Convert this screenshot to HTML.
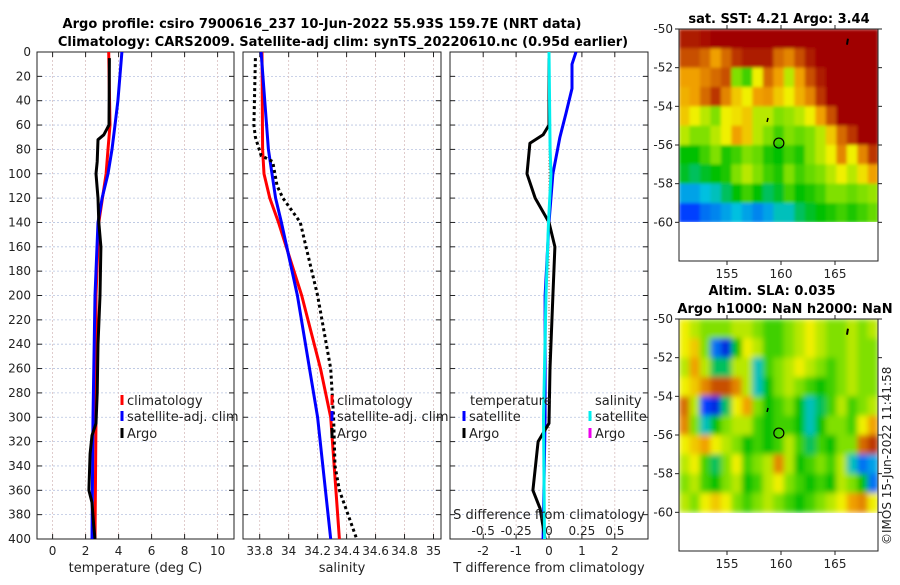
<!DOCTYPE html>
<html><head><meta charset="utf-8"><style>
html,body{margin:0;padding:0;background:#fff;}
svg text{font-family:"DejaVu Sans","Liberation Sans",sans-serif;fill:#222;}
</style></head><body>
<svg id="fig" width="900" height="580" viewBox="0 0 900 580" xmlns="http://www.w3.org/2000/svg">
<defs>
<filter id="blurS" x="0" y="0" width="1" height="1"><feGaussianBlur stdDeviation="1.5"/></filter>
<filter id="blurL" x="0" y="0" width="1" height="1"><feGaussianBlur stdDeviation="3"/></filter>
<clipPath id="clipSST"><rect x="679" y="29" width="199" height="193"/></clipPath>
<clipPath id="clipSLA"><rect x="679" y="319" width="199" height="195"/></clipPath>
</defs>
<text x="322" y="28" font-size="13" font-weight="bold" text-anchor="middle" style="fill:#000">Argo profile: csiro 7900616_237 10-Jun-2022 55.93S 159.7E (NRT data)</text>
<text x="343" y="46" font-size="13" font-weight="bold" text-anchor="middle" style="fill:#000">Climatology: CARS2009. Satellite-adj clim: synTS_20220610.nc (0.95d earlier)</text>
<text x="779" y="23" font-size="13" font-weight="bold" text-anchor="middle" style="fill:#000">sat. SST: 4.21 Argo: 3.44</text>
<text x="772" y="295" font-size="13" font-weight="bold" text-anchor="middle" style="fill:#000">Altim. SLA: 0.035</text>
<text x="785" y="313" font-size="13" font-weight="bold" text-anchor="middle" style="fill:#000">Argo h1000: NaN h2000: NaN</text>
<text transform="translate(891,545) rotate(-90)" font-size="12">©IMOS 15-Jun-2022 11:41:58</text>
</svg>
<script>
// ---------- data ----------
const depthTicks=[0,20,40,60,80,100,120,140,160,180,200,220,240,260,280,300,320,340,360,380,400];
const tempTicks=[0,2,4,6,8,10];
const salTicks=[33.8,34,34.2,34.4,34.6,34.8,35];
const salTickLabels=["33.8","34","34.2","34.4","34.6","34.8","35"];
const dTTicks=[-2,-1,0,1,2];
const dSTicks=[-0.5,-0.25,0,0.25,0.5];
const dSTickLabels=["-0.5","-0.25","0","0.25","0.5"];

const climTempDepth=[0,60,80,100,140,200,300,400];
const climTemp=[3.4,3.48,3.36,3.24,2.8,2.63,2.63,2.57];
const satTempDepth=[0,40,60,80,100,120,140,200,300,400];
const satTemp=[4.2,3.96,3.78,3.6,3.36,3.0,2.75,2.57,2.45,2.39];
const argoTempDepth=[5,60,68,72,90,100,120,140,160,200,240,280,305,315,330,360,370,390,400];
const argoTemp=[3.44,3.42,3.1,2.75,2.7,2.63,2.75,2.8,2.93,2.87,2.75,2.7,2.63,2.39,2.27,2.2,2.39,2.5,2.57];

const climSalDepth=[0,80,100,120,140,200,260,300,400];
const climSal=[33.816,33.82,33.83,33.87,33.93,34.09,34.22,34.29,34.35];
const satSalDepth=[0,80,100,120,140,200,300,400];
const satSal=[33.81,33.86,33.885,33.91,33.95,34.06,34.2,34.29];
const argoSalDepth=[5,60,70,85,90,110,120,140,160,200,260,300,340,360,400];
const argoSal=[33.77,33.76,33.77,33.81,33.89,33.92,33.96,34.08,34.12,34.2,34.29,34.31,34.32,34.35,34.47];

const dTSatDepth=[0,10,30,50,70,100,140,200,300,400];
const dTSat=[0.82,0.7,0.7,0.52,0.33,0.12,0,-0.12,-0.12,-0.18];
const dTArgoDepth=[5,60,68,75,100,120,140,160,200,260,305,320,360,375,400];
const dTArgo=[0,0,-0.18,-0.58,-0.67,-0.42,0,0.18,0.12,0.03,0,-0.33,-0.49,-0.27,-0.12];
const dSSatDepth=[0,80,100,140,200,300,400];
const dSSat=[0,0.008,0.015,-0.004,-0.023,-0.042,-0.034];

const lonTicks=[155,160,165];
const latTicks=[-50,-52,-54,-56,-58,-60];
const latTickLabels=["-50","-52","-54","-56","-58","-60"];
const argoLon=159.8, argoLat=-55.9;
const sstGrid=[
[.95,.95,.97,1,1,1,1,1,1,1,1,1,1,1,1,1,1,1,1],
[.85,.85,.8,.7,.8,.9,.95,.95,.95,.8,.75,.85,.95,1,1,1,1,1,1],
[.7,.7,.75,.8,.85,.5,.45,.6,.8,.7,.55,.7,.85,.95,1,1,1,1,1],
[.68,.7,.8,.9,.75,.65,.6,.7,.72,.65,.6,.68,.75,.9,1,1,1,1,1],
[.65,.6,.55,.5,.6,.62,.65,.55,.55,.5,.52,.55,.6,.7,.85,1,1,1,1],
[.55,.5,.5,.55,.6,.7,.65,.55,.5,.45,.5,.48,.5,.55,.65,.8,.9,1,1],
[.4,.4,.45,.5,.42,.45,.5,.48,.42,.4,.45,.42,.5,.55,.6,.75,.6,.75,.9],
[.38,.35,.38,.4,.42,.5,.55,.5,.45,.42,.5,.45,.48,.5,.55,.6,.55,.62,.7],
[.25,.25,.28,.3,.35,.4,.45,.4,.35,.38,.45,.4,.42,.45,.5,.5,.48,.5,.52],
[.15,.15,.2,.22,.25,.28,.25,.22,.25,.3,.3,.35,.38,.4,.42,.45,.42,.45,.48]];
const slaGrid=[
[.6,.55,.5,.5,.5,.55,.55,.5,.45,.45,.5,.55,.6,.55,.5,.5,.55,.5,.55],
[.6,.65,.5,.2,.1,.4,.6,.55,.45,.45,.5,.55,.6,.55,.5,.5,.55,.5,.5],
[.55,.7,.55,.35,.35,.55,.55,.3,.45,.5,.55,.6,.55,.5,.45,.5,.55,.5,.5],
[.6,.65,.75,.85,.85,.75,.55,.3,.4,.5,.55,.5,.45,.4,.45,.5,.55,.5,.5],
[.8,.55,.15,.1,.35,.6,.7,.5,.4,.45,.5,.4,.3,.35,.45,.55,.45,.5,.55],
[.75,.5,.3,.4,.5,.55,.55,.45,.4,.45,.45,.4,.3,.4,.5,.5,.45,.6,.7],
[.6,.65,.7,.6,.55,.5,.4,.45,.4,.45,.55,.45,.35,.45,.4,.5,.5,.8,.9],
[.55,.6,.45,.35,.5,.6,.45,.5,.55,.75,.55,.4,.45,.5,.45,.55,.3,.2,.25],
[.5,.55,.45,.4,.5,.55,.4,.45,.55,.6,.5,.45,.4,.45,.4,.55,.5,.4,.2],
[.55,.5,.6,.65,.6,.5,.45,.5,.55,.5,.45,.4,.45,.5,.55,.6,.7,.75,.6]];

// ---------- helpers ----------
const svg=document.getElementById('fig');
const NS='http://www.w3.org/2000/svg';
function mk(tag,attrs,parent){const e=document.createElementNS(NS,tag);for(const k in attrs)e.setAttribute(k,attrs[k]);(parent||svg).appendChild(e);return e;}
const yTop=52,yBot=539;
function yD(d){return yTop+(d/400)*(yBot-yTop);}
function lin(d0,d1,r0,r1){return v=>r0+(v-d0)/(d1-d0)*(r1-r0);}

const panels=[
 {name:'temperature-panel',x0:37,x1:234,sx:lin(0,10,52.6,217.6),ticks:tempTicks,labels:tempTicks.map(String),title:'temperature (deg C)'},
 {name:'salinity-panel',x0:243,x1:441,sx:lin(33.8,35,259.7,433.5),ticks:salTicks,labels:salTickLabels,title:'salinity'},
 {name:'difference-panel',x0:450,x1:648,sx:lin(0,1,549,581.9),ticks:dTTicks,labels:dTTicks.map(String),title:'T difference from climatology'}
];
const sxS=lin(0,0.5,549,614.8);

function drawPanel(p,showY){
  const g=mk('g',{});
  
  
  mk('rect',{x:p.x0,y:yTop,width:p.x1-p.x0,height:yBot-yTop,fill:'#fff'},g);
  depthTicks.forEach(d=>{
    const l=mk('line',{x1:p.x0,x2:p.x1,y1:yD(d),y2:yD(d),stroke:'#b8c4e0','stroke-width':0.8,'stroke-dasharray':'2,2'},g);
    
    
    mk('line',{x1:p.x0,x2:p.x0+5,y1:yD(d),y2:yD(d),stroke:'#222'},g);
    mk('line',{x1:p.x1-5,x2:p.x1,y1:yD(d),y2:yD(d),stroke:'#222'},g);
    if(showY){const t=mk('text',{x:p.x0-6,y:yD(d)+4,'font-size':12,'text-anchor':'end'},g);t.textContent=d;
      
      }
  });
  p.ticks.forEach((v,i)=>{
    const x=p.sx(v);
    mk('line',{x1:x,x2:x,y1:yTop,y2:yBot,stroke:'#d8c0c0','stroke-width':0.8,'stroke-dasharray':'2,2'},g);
    mk('line',{x1:x,x2:x,y1:yBot-5,y2:yBot,stroke:'#222'},g);
    mk('line',{x1:x,x2:x,y1:yTop,y2:yTop+5,stroke:'#222'},g);
    const t=mk('text',{x:x,y:yBot+16,'font-size':12,'text-anchor':'middle'},g);t.textContent=p.labels[i];
    
    
  });
  mk('rect',{x:p.x0,y:yTop,width:p.x1-p.x0,height:yBot-yTop,fill:'none',stroke:'#222','stroke-width':1},g);
  const tt=mk('text',{x:(p.x0+p.x1)/2,y:572,'font-size':13,'text-anchor':'middle'},g);tt.textContent=p.title;
  
  
  return g;
}
function line(g,sx,vals,depths,color,name,dash,w){
  const pts=vals.map((v,i)=>sx(v).toFixed(1)+','+yD(depths[i]).toFixed(1)).join(' ');
  const e=mk('polyline',{points:pts,fill:'none',stroke:color,'stroke-width':w||3,'stroke-linejoin':'round'},g);
  if(dash)e.setAttribute('stroke-dasharray',dash);
  
  
}
function legend(g,x,y,color,label,dash){
  const m=mk('line',{x1:x,x2:x,y1:y-10,y2:y,stroke:color,'stroke-width':3},g);
  if(dash)m.setAttribute('stroke-dasharray',dash);
  const t=mk('text',{x:x+5,y:y,'font-size':13},g);t.textContent=label;
  
  
}

const g1=drawPanel(panels[0],true);
line(g1,panels[0].sx,climTemp,climTempDepth,'#f00','climatology-temp-line');
line(g1,panels[0].sx,satTemp,satTempDepth,'#00f','satellite-temp-line');
line(g1,panels[0].sx,argoTemp,argoTempDepth,'#000','argo-temp-line');
legend(g1,122,405,'#f00','climatology');legend(g1,122,421,'#00f','satellite-adj. clim');legend(g1,122,438,'#000','Argo');

const g2=drawPanel(panels[1],false);
line(g2,panels[1].sx,climSal,climSalDepth,'#f00','climatology-salinity-line');
line(g2,panels[1].sx,satSal,satSalDepth,'#00f','satellite-salinity-line');
line(g2,panels[1].sx,argoSal,argoSalDepth,'#000','argo-salinity-line','3,3');
legend(g2,332,405,'#f00','climatology');legend(g2,332,421,'#00f','satellite-adj. clim');legend(g2,332,438,'#000','Argo');

const g3=drawPanel(panels[2],false);
const zl=mk('line',{x1:549,x2:549,y1:yTop,y2:yBot,stroke:'#8a6a40','stroke-width':1,'stroke-dasharray':'1,2'},g3);


line(g3,panels[2].sx,dTSat,dTSatDepth,'#00f','satellite-temp-diff-line');
line(g3,panels[2].sx,dTArgo,dTArgoDepth,'#000','argo-temp-diff-line');
line(g3,sxS,dSSat,dSSatDepth,'#0ee','satellite-salinity-diff-line');
let t=mk('text',{x:470,y:405,'font-size':13},g3);t.textContent='temperature';


t=mk('text',{x:595,y:405,'font-size':13},g3);t.textContent='salinity';


legend(g3,464,421,'#00f','satellite');legend(g3,464,438,'#000','Argo');
legend(g3,590,421,'#0ee','satellite');legend(g3,590,438,'#e0e','Argo');
t=mk('text',{x:549,y:519,'font-size':13,'text-anchor':'middle'},g3);t.textContent='S difference from climatology';


dSTicks.forEach((v,i)=>{const tx=mk('text',{x:sxS(v),y:535,'font-size':12,'text-anchor':'middle'},g3);tx.textContent=dSTickLabels[i];
  
  });

// ---------- maps ----------
const cmapStops=[[0,[0,0,160]],[0.15,[0,64,255]],[0.28,[0,192,224]],[0.4,[0,192,0]],[0.5,[128,224,0]],[0.6,[240,240,0]],[0.7,[240,160,0]],[0.82,[208,96,0]],[1,[160,0,0]]];
function cmap(v){
  v=Math.max(0,Math.min(1,v));
  for(let i=1;i<cmapStops.length;i++){
    const [a,ca]=cmapStops[i-1],[b,cb]=cmapStops[i];
    if(v<=b){const f=(v-a)/(b-a);return `rgb(${ca.map((c,k)=>Math.round(c+(cb[k]-c)*f)).join(',')})`;}
  }
  return 'rgb(160,0,0)';
}
function drawMap(name,grid,top,bottom,filterId,clipId){
  const x0=679,x1=878;
  const sxl=lin(155,165,727,835);
  const syl=lin(-50,-62,top,bottom);
  const g=mk('g',{});
  
  
  const cg=mk('g',{'clip-path':`url(#${clipId})`},g);
  const cells=mk('g',{filter:`url(#${filterId})`},cg);
  const lonStart=150.55,dl=(169-150.55)/19;
  grid.forEach((row,j)=>row.forEach((v,i)=>{
    const xa=sxl(lonStart+i*dl),xb=sxl(lonStart+(i+1)*dl);
    const r=mk('rect',{x:xa,y:syl(-50-j),width:xb-xa+0.5,height:syl(-51-j)-syl(-50-j)+0.5,fill:cmap(v)},cells);
    
    
  }));
  mk('rect',{x:x0,y:top,width:x1-x0,height:bottom-top,fill:'none',stroke:'#222'},g);
  latTicks.forEach((v,i)=>{const y=syl(v);
    mk('line',{x1:x0-4,x2:x0,y1:y,y2:y,stroke:'#222'},g);
    mk('line',{x1:x1,x2:x1+4,y1:y,y2:y,stroke:'#222'},g);
    const tx=mk('text',{x:x0-6,y:y+4,'font-size':12,'text-anchor':'end'},g);tx.textContent=latTickLabels[i];
    
    });
  lonTicks.forEach(v=>{const x=sxl(v);
    mk('line',{x1:x,x2:x,y1:bottom,y2:bottom+4,stroke:'#222'},g);
    mk('line',{x1:x,x2:x,y1:top-4,y2:top,stroke:'#222'},g);
    const tx=mk('text',{x:x,y:bottom+17,'font-size':12,'text-anchor':'middle'},g);tx.textContent=v;
    
    });
  const c=mk('circle',{cx:sxl(argoLon),cy:syl(argoLat),r:5,fill:'none',stroke:'#000','stroke-width':1.2},g);
  
  
  mk('path',{d:`M${sxl(166.2)} ${syl(-50.5)} l-1 6`,stroke:'#000','stroke-width':2},g);
  mk('path',{d:`M${sxl(158.8)} ${syl(-54.6)} l-1 4`,stroke:'#000','stroke-width':1.5},g);
}
drawMap('sst-map',sstGrid,29,261,'blurS','clipSST');
drawMap('sla-map',slaGrid,319,551,'blurL','clipSLA');
</script>
</body></html>
